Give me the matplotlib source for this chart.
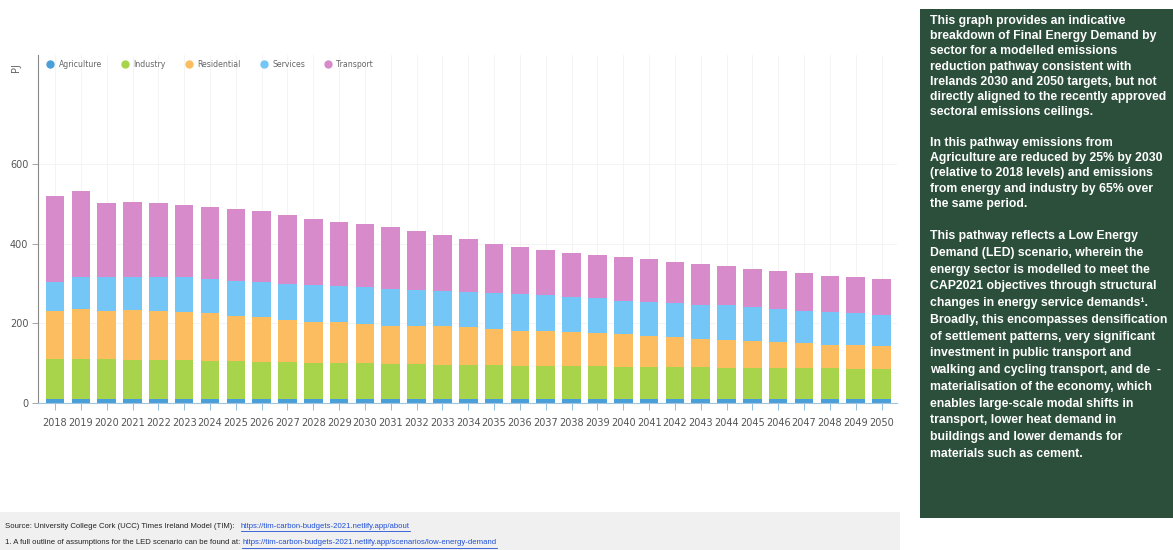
import matplotlib
matplotlib.use('Agg')
import matplotlib.pyplot as plt
from matplotlib.patches import Rectangle
from matplotlib.lines import Line2D
import numpy as np

years = [str(y) for y in range(2018, 2051)]
sectors = ['Agriculture', 'Industry', 'Residential', 'Services', 'Transport']
colors = ['#4a9fd8', '#a8d44c', '#fbbd5f', '#74c6f6', '#d78bca']

agriculture = [10, 10, 10, 10, 10, 10, 10, 10, 10, 10, 10, 10, 10, 10, 10, 10,
               9, 9, 9, 9, 9, 9, 9, 9, 9, 9, 9, 9, 9, 9, 9, 9, 9]
industry = [100, 100, 100, 98, 98, 97, 95, 95, 93, 93, 90, 90, 90, 88, 88, 86,
            86, 86, 85, 85, 83, 83, 82, 82, 81, 81, 80, 80, 79, 79, 78, 77, 77]
residential = [120, 127, 122, 125, 123, 121, 120, 113, 112, 105, 104, 102, 97, 96, 96, 96,
               95, 91, 87, 87, 85, 84, 81, 77, 75, 71, 70, 67, 64, 62, 59, 59, 56]
services = [74, 78, 83, 84, 86, 87, 87, 88, 89, 91, 91, 91, 95, 93, 89, 89,
            88, 89, 93, 89, 89, 87, 85, 86, 86, 86, 86, 85, 84, 82, 82, 80, 80]
transport = [216, 217, 186, 187, 184, 182, 179, 180, 177, 173, 167, 160, 158, 154, 149, 140,
             133, 125, 117, 115, 111, 108, 109, 106, 102, 101, 98, 95, 94, 93, 91, 91, 89]

source_lines = [
    ('Source: University College Cork (UCC) Times Ireland Model (TIM):   ',
     'https://tim-carbon-budgets-2021.netlify.app/about'),
    ('1. A full outline of assumptions for the LED scenario can be found at: ',
     'https://tim-carbon-budgets-2021.netlify.app/scenarios/low-energy-demand'),
]

panel_paras = [
    "This graph provides an indicative\nbreakdown of Final Energy Demand by\n"
    "sector for a modelled emissions\nreduction pathway consistent with\n"
    "Irelands 2030 and 2050 targets, but not\ndirectly aligned to the recently approved\n"
    "sectoral emissions ceilings.",
    "In this pathway emissions from\nAgriculture are reduced by 25% by 2030\n"
    "(relative to 2018 levels) and emissions\nfrom energy and industry by 65% over\n"
    "the same period.",
    "This pathway reflects a Low Energy\nDemand (LED) scenario, wherein the\n"
    "energy sector is modelled to meet the\nCAP2021 objectives through structural\n"
    "changes in energy service demands\u00b9.\nBroadly, this encompasses densification\n"
    "of settlement patterns, very significant\ninvestment in public transport and\n"
    "walking and cycling transport, and de  -\nmaterialisation of the economy, which\n"
    "enables large-scale modal shifts in\ntransport, lower heat demand in\n"
    "buildings and lower demands for\nmaterials such as cement.",
]

W, H = 1173, 550
fig = plt.figure(figsize=(W / 100, H / 100), dpi=100)
fig.patch.set_facecolor('white')

# main chart axes (pixel box: x 38..897, y 55..403)
ax = fig.add_axes([38 / W, 1 - 403 / H, (897 - 38) / W, (403 - 55) / H])
x = np.arange(len(years))
series = [agriculture, industry, residential, services, transport]
bottom = np.zeros(len(years))
for name, vals, c in zip(sectors, series, colors):
    ax.bar(x, vals, bottom=bottom, width=0.72, color=c, label=name, zorder=2)
    bottom += np.array(vals)

ax.set_xlim(-0.66, 32.6)
ax.set_ylim(0, 873)
ax.set_yticks([0, 200, 400, 600])
ax.set_xticks(x)
ax.set_xticklabels(years)
ax.tick_params(axis='x', labelsize=7, colors='#555555', length=5, width=0.6,
               color='#7fb3d9', pad=6)
ax.tick_params(axis='y', labelsize=7, colors='#555555', length=4, width=0.6,
               color='#999999', pad=3)
for side in ['top', 'right']:
    ax.spines[side].set_visible(False)
ax.spines['left'].set_color('#888888')
ax.spines['left'].set_linewidth(0.8)
ax.spines['bottom'].set_color('#9fc4df')
ax.spines['bottom'].set_linewidth(0.8)
ax.grid(True, color='#f2f2f2', linewidth=0.6, zorder=0)
ax.set_axisbelow(True)
fig.text(16 / W, 1 - 68 / H, 'PJ', rotation=90, fontsize=7,
         color='#666666', ha='center', va='center')

handles = [Line2D([], [], marker='o', linestyle='', markersize=5, markerfacecolor=c,
                  markeredgecolor=c) for c in colors]
leg = ax.legend(handles, sectors, loc='upper left', bbox_to_anchor=(0.0, 1.0),
                ncol=5, frameon=False, fontsize=5.6, handletextpad=0.05,
                columnspacing=2.0, borderaxespad=0.2)
for t in leg.get_texts():
    t.set_color('#666666')

# source box at the bottom
fig.patches.append(Rectangle((0, 0), 900 / W, 38 / H, transform=fig.transFigure,
                             facecolor='#f0f0f0', edgecolor='none', zorder=0))
renderer = fig.canvas.get_renderer()
src_font = ['Liberation Sans', 'DejaVu Sans']
for (plain, link), yc in zip(source_lines, [526, 543]):
    t = fig.text(5 / W, 1 - yc / H, plain, fontsize=5.6, family=src_font,
                 va='center', color='#222222')
    x1 = t.get_window_extent(renderer).x1
    lt = fig.text(x1 / W, 1 - yc / H, link, fontsize=5.6, family=src_font,
                  va='center', color='#1f4fd6')
    x2 = lt.get_window_extent(renderer).x1
    fig.add_artist(Line2D([x1 / W, x2 / W], [1 - (yc + 5) / H] * 2,
                          color='#1f4fd6', linewidth=0.6))

# right-hand text panel
fig.patches.append(Rectangle((920 / W, 1 - 518 / H), (W - 920) / W, (518 - 9) / H,
                             transform=fig.transFigure, facecolor='#2c4f3c',
                             edgecolor='none', zorder=0))
para_tops = [15, 137, 230]
para_spacing = [1.36, 1.36, 1.53]
for txt, top, ls in zip(panel_paras, para_tops, para_spacing):
    fig.text(930 / W, 1 - top / H, txt, fontsize=8.8, family=['Liberation Sans', 'DejaVu Sans'],
             fontweight='bold', color='white', va='top', ha='left', linespacing=ls)

fig.savefig('out.png', dpi=100)
